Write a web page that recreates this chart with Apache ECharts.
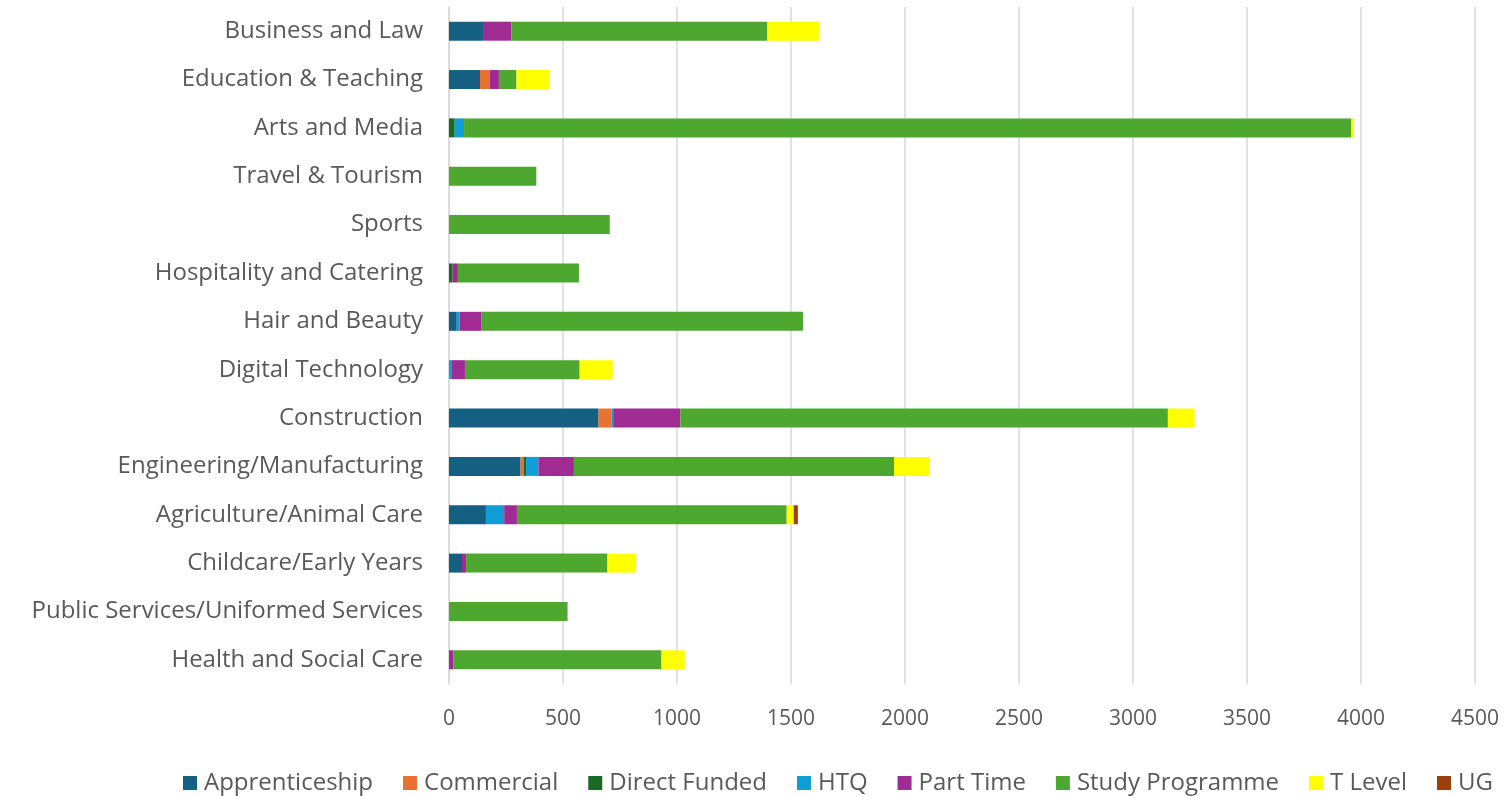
<!DOCTYPE html>
<html>
<head>
<meta charset="utf-8">
<script src="https://cdn.jsdelivr.net/npm/echarts@6/dist/echarts.min.js"></script>
<style>
  html, body { margin: 0; padding: 0; background: #fff; }
  #chart { width: 1504px; height: 796px; }
</style>
</head>
<body>
<div id="chart"></div>
<script>
  // categories, top to bottom
  var categories = ['Business and Law', 'Education & Teaching', 'Arts and Media', 'Travel & Tourism', 'Sports',
    'Hospitality and Catering', 'Hair and Beauty', 'Digital Technology', 'Construction', 'Engineering/Manufacturing',
    'Agriculture/Animal Care', 'Childcare/Early Years', 'Public Services/Uniformed Services', 'Health and Social Care']

  var apprenticeship = [149, 136, 0, 0, 0, 0, 34, 0, 656, 314, 162, 57, 0, 0]
  var commercial = [0, 42, 0, 0, 0, 0, 0, 0, 58, 15, 0, 0, 0, 0]
  var directFunded = [0, 0, 25, 0, 0, 16, 0, 0, 0, 9, 0, 0, 0, 0]
  var htq = [0, 0, 41, 0, 0, 0, 12, 13, 6, 54, 80, 0, 0, 0]
  var partTime = [124, 41, 0, 0, 0, 23, 95, 57, 295, 156, 56, 18, 0, 20]
  var studyProgramme = [1123, 77, 3892, 383, 705, 531, 1412, 503, 2138, 1404, 1183, 620, 520, 912]
  var tLevel = [230, 145, 10, 0, 0, 0, 0, 145, 117, 153, 31, 126, 0, 102]
  var ug = [0, 0, 0, 0, 0, 0, 0, 0, 0, 0, 18, 0, 0, 0]

  var seriesNames = ['Apprenticeship', 'Commercial', 'Direct Funded', 'HTQ', 'Part Time', 'Study Programme', 'T Level', 'UG']
  var seriesData = [apprenticeship, commercial, directFunded, htq, partTime, studyProgramme, tLevel, ug]
  var colors = ['#156082', '#E97132', '#196B24', '#0F9ED5', '#A02B93', '#4EA72E', '#FFFF00', '#99400F']

  var textColor = '#595959'
  var font = 'Open Sans'

  var chart = echarts.init(document.getElementById('chart'))

  var series = seriesNames.map(function (name, i) {
    return {
      name: name,
      type: 'bar',
      stack: 'total',
      barWidth: 19,
      data: seriesData[i],
      itemStyle: { color: colors[i] }
    }
  })

  var option = {
    animation: false,
    color: colors,
    grid: {
      left: 449,
      right: 29,
      top: 7,
      bottom: 112,
      containLabel: false
    },
    legend: {
      top: 766,
      left: 178,
      itemWidth: 14,
      itemHeight: 14,
      itemGap: 30,
      icon: 'rect',
      textStyle: { color: textColor, fontSize: 24, fontFamily: font, padding: [0, 0, 0, 2] }
    },
    xAxis: {
      type: 'value',
      min: 0,
      max: 4500,
      interval: 500,
      axisLine: { show: false },
      axisTick: { show: false },
      axisLabel: {
        color: textColor, fontSize: 21, fontFamily: font, margin: 25,
        formatter: function (v) { return String(v) }
      },
      splitLine: { lineStyle: { color: '#d9d9d9', width: 1.5 } }
    },
    yAxis: {
      type: 'category',
      inverse: true,
      data: categories,
      axisLine: { show: true, lineStyle: { color: '#d9d9d9', width: 1.5 } },
      axisTick: { show: false },
      axisLabel: { color: textColor, fontSize: 24, fontFamily: font, margin: 26 }
    },
    series: series
  }

  chart.setOption(option)
</script>
</body>
</html>
